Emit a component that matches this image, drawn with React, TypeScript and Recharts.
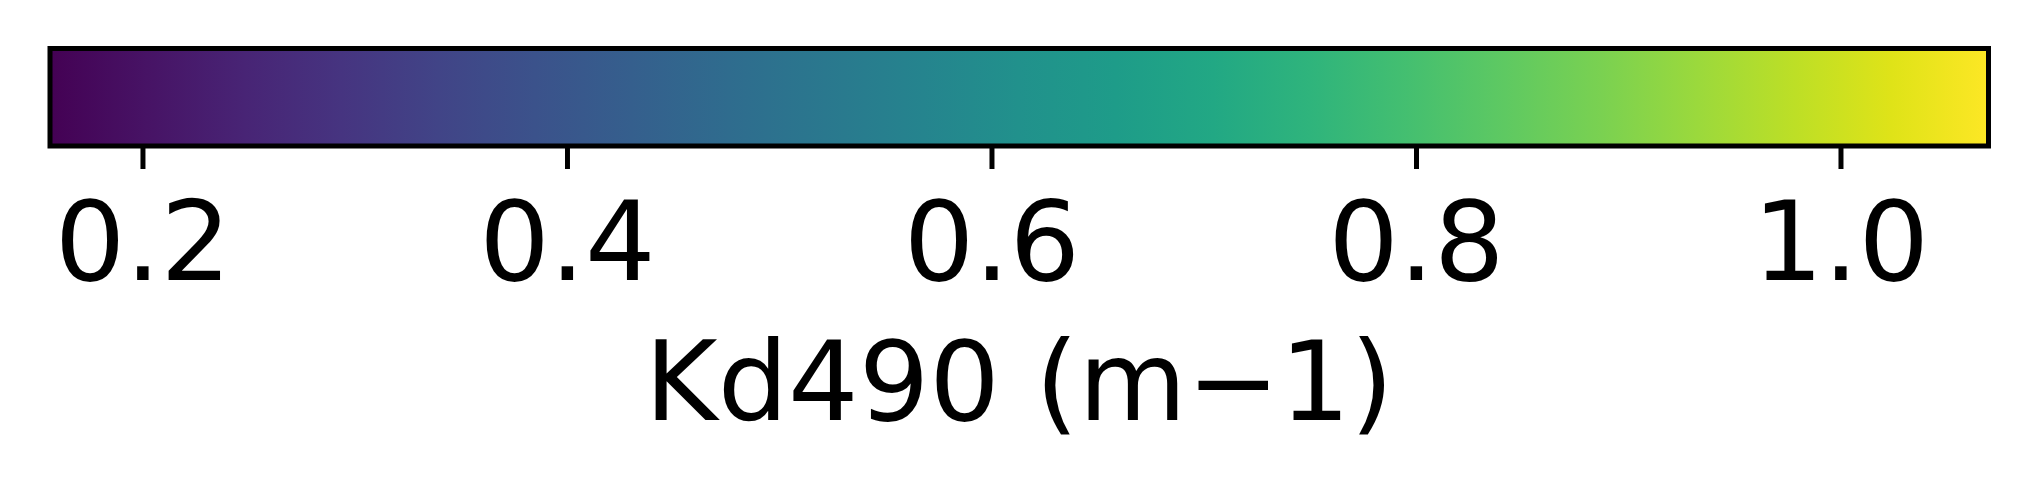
import React from 'react';
import { ComposedChart, XAxis, YAxis, Area, ReferenceArea } from 'recharts';

// colorbar range (Kd490, m-1) and ticks
const VMIN = 0.1562;
const VMAX = 1.0695;
const TICKS = [0.2, 0.4, 0.6, 0.8, 1.0];

// viridis stops along the bar
const STOP_OFFSETS = [0, 0.05, 0.1, 0.15, 0.2, 0.25, 0.3, 0.35, 0.4, 0.45, 0.5, 0.55, 0.6, 0.65, 0.7, 0.75, 0.8, 0.85, 0.9, 0.95, 1];
const STOP_COLORS = [
  '#440154', '#471365', '#482475', '#463480', '#414487', '#3b528b', '#355f8d',
  '#2f6c8e', '#2a788e', '#25848e', '#21918c', '#1e9c89', '#22a884', '#2fb47c',
  '#44bf70', '#5ec962', '#7ad151', '#9bd93c', '#bddf26', '#dfe318', '#fde725',
];

const LABEL = 'Kd490 (m\u22121)';
const FONT = 'DejaVu Sans, sans-serif';

// the bar spans the whole range at full height
const data = [
  { v: VMIN, h: 1 },
  { v: VMAX, h: 1 },
];

const AxisLabel = ({ viewBox }: any) => {
  const { x, y, width } = viewBox;
  return (
    <text x={x + width / 2} y={y + 274} textAnchor="middle" fontSize={111} fontFamily={FONT} fill="#000">
      {LABEL}
    </text>
  );
};

export default function App() {
  return (
    <div style={{ position: 'absolute', left: 0, top: 0, background: '#fff' }}>
      <ComposedChart
        width={2037}
        height={493}
        data={data}
        margin={{ top: 48.5, right: 48.5, bottom: 47, left: 50 }}
      >
        <defs>
          <linearGradient id="viridis" x1="0" y1="0" x2="1" y2="0">
            {STOP_OFFSETS.map((o, i) => (
              <stop key={i} offset={o} stopColor={STOP_COLORS[i]} />
            ))}
          </linearGradient>
        </defs>
        <XAxis
          dataKey="v"
          type="number"
          domain={[VMIN, VMAX]}
          ticks={TICKS}
          tickFormatter={(t: number) => t.toFixed(1)}
          axisLine={false}
          tickLine={{ stroke: '#000', strokeWidth: 5 }}
          tickSize={23}
          tickMargin={32}
          height={300}
          tick={{ fontSize: 111, fontFamily: FONT, fill: '#000' }}
          interval={0}
          label={<AxisLabel />}
        />
        <YAxis type="number" domain={[0, 1]} hide />
        <Area
          dataKey="h"
          type="linear"
          baseValue={0}
          fill="url(#viridis)"
          fillOpacity={1}
          stroke="none"
          dot={false}
          activeDot={false}
          isAnimationActive={false}
        />
        <ReferenceArea
          x1={VMIN}
          x2={VMAX}
          y1={0}
          y2={1}
          fill="none"
          stroke="#000"
          strokeWidth={5}
          ifOverflow="visible"
        />
      </ComposedChart>
    </div>
  );
}
